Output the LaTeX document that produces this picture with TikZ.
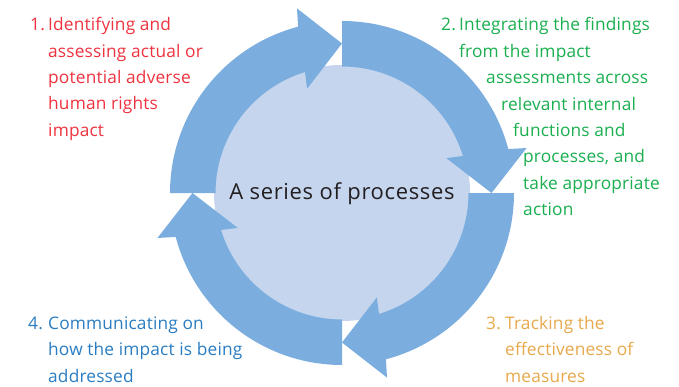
\documentclass[tikz,border=0pt]{standalone}
\usepackage{fontspec}
\setmainfont{Open Sans}
\begin{document}
\definecolor{bandblue}{HTML}{7BAEDF}
\definecolor{innerblue}{HTML}{C5D5EE}
\definecolor{stepred}{HTML}{EE3340}
\definecolor{stepgreen}{HTML}{1AAF4F}
\definecolor{steporange}{HTML}{E8A94C}
\definecolor{stepblue}{HTML}{2A7DC2}
\definecolor{darktext}{HTML}{231F20}
\begin{tikzpicture}[x=1pt,y=1pt,
  band/.style={fill=bandblue},
  lbl/.style={inner sep=0pt,anchor=base west,
    font=\fontsize{17.3}{20}\selectfont\addfontfeatures{LetterSpace=1}},
  redtxt/.style={lbl,text=stepred},
  greentxt/.style={lbl,text=stepgreen},
  orangetxt/.style={lbl,text=steporange},
  bluetxt/.style={lbl,text=stepblue}]
\useasboundingbox (0,0) rectangle (679,386);
\fill[white] (0,0) rectangle (679,386);

% central disc and the four curved arrows around it
\begin{scope}[shift={(342,193)}]
  \fill[innerblue] (0,0) circle[radius=128pt];
  \foreach \t in {90,0,-90,180}{
    \fill[band] (\t+90:172pt)
      arc[start angle=\t+90, end angle=\t+14.8, radius=172pt]
      -- (\t+13.7:190pt) -- (\t:149.5pt) -- (\t+18.5:110pt) -- (\t+17:126.5pt)
      arc[start angle=\t+17, end angle=\t+90, radius=126.5pt] -- cycle;
  }
\end{scope}

\node[inner sep=0pt,anchor=base,text=darktext,
  font=\fontsize{22}{26}\selectfont\addfontfeatures{LetterSpace=3}]
  (centre) at (342,187) {A series of processes};

% step 1
\node[redtxt] (n1) at (30,355) {1.};
\node[redtxt] (a1) at (48,355) {Identifying and};
\node[redtxt] (a2) at (48,328.7) {assessing actual or};
\node[redtxt] (a3) at (48,302.4) {potential adverse};
\node[redtxt] (a4) at (48,276.1) {human rights};
\node[redtxt] (a5) at (48,249.8) {impact};

% step 2
\node[greentxt] (n2) at (441,355) {2.};
\node[greentxt] (b1) at (459,355) {Integrating the findings};
\node[greentxt] (b2) at (459,328.6) {from the impact};
\node[greentxt] (b3) at (486,302.2) {assessments across};
\node[greentxt] (b4) at (501,275.8) {relevant internal};
\node[greentxt] (b5) at (513,249.4) {functions and};
\node[greentxt] (b6) at (523,223) {processes, and};
\node[greentxt] (b7) at (523,196.6) {take appropriate};
\node[greentxt] (b8) at (523,170.2) {action};

% step 3
\node[orangetxt] (n3) at (486,57) {3.};
\node[orangetxt] (c1) at (505,57) {Tracking the};
\node[orangetxt] (c2) at (505,30.5) {effectiveness of};
\node[orangetxt] (c3) at (505,4) {measures};

% step 4
\node[bluetxt] (n4) at (28,57) {4.};
\node[bluetxt] (d1) at (48,57) {Communicating on};
\node[bluetxt] (d2) at (48,30.5) {how the impact is being};
\node[bluetxt] (d3) at (48,4) {addressed};
\end{tikzpicture}
\end{document}
